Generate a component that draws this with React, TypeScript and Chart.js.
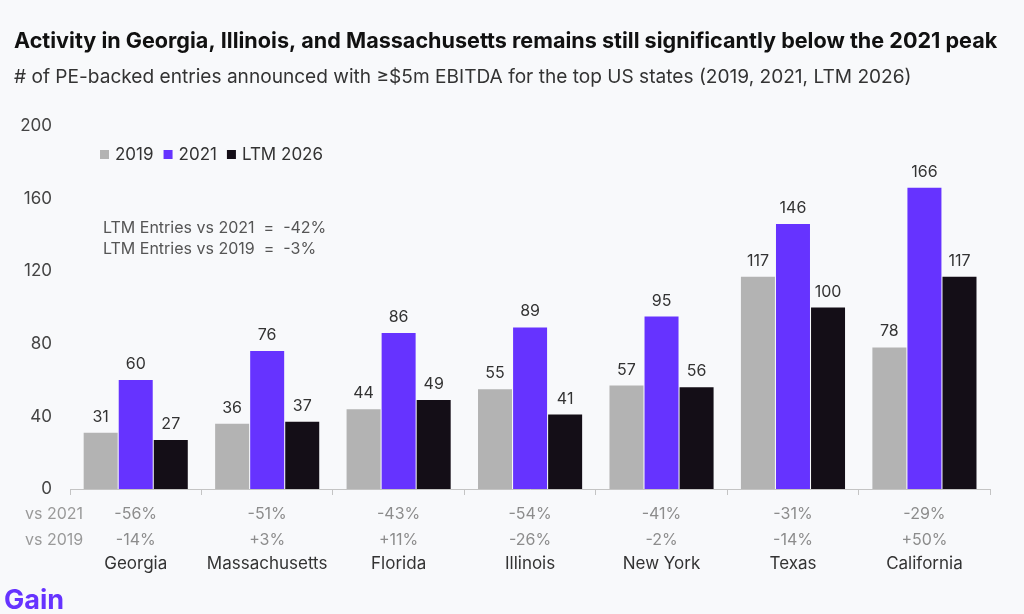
import React, { useEffect, useRef } from "react";
import { Chart, registerables } from "chart.js";

Chart.register(...registerables);

const categories = ["Georgia", "Massachusetts", "Florida", "Illinois", "New York", "Texas", "California"];
const values2019 = [31, 36, 44, 55, 57, 117, 78];
const values2021 = [60, 76, 86, 89, 95, 146, 166];
const valuesLtm = [27, 37, 49, 41, 56, 100, 117];
const vs2021 = ["-56%", "-51%", "-43%", "-54%", "-41%", "-31%", "-29%"];
const vs2019 = ["-14%", "+3%", "+11%", "-26%", "-2%", "-14%", "+50%"];
const rowLabels = ["vs 2021", "vs 2019"];
const seriesNames = ["2019", "2021", "LTM 2026"];
const seriesColors = ["#b3b3b3", "#6633ff", "#140e17"];
const notes = ["LTM Entries vs 2021  =  -42%", "LTM Entries vs 2019  =  -3%"];
const titleText = "Activity in Georgia, Illinois, and Massachusetts remains still significantly below the 2021 peak";
const subtitleText = "# of PE-backed entries announced with \u2265$5m EBITDA for the top US states (2019, 2021, LTM 2026)";
const logoText = "Gain";
const yMax = 200;
const yStep = 40;

const FONT = "Inter, 'Noto Sans', sans-serif";
const BG = "#f8f9fb";

function fitFont(ctx: CanvasRenderingContext2D, text: string, weight: string, size: number, maxWidth: number) {
  ctx.font = `${weight} ${size}px ${FONT}`;
  const w = ctx.measureText(text).width;
  if (w > maxWidth) {
    const s = (size * maxWidth) / w;
    ctx.font = `${weight} ${s}px ${FONT}`;
  }
}

const overlayPlugin = {
  id: "overlay",
  beforeDraw(chart: any) {
    const { ctx, width, height } = chart;
    ctx.save();
    ctx.fillStyle = BG;
    ctx.fillRect(0, 0, width, height);
    ctx.restore();
  },
  afterDatasetsDraw(chart: any) {
    const ctx = chart.ctx as CanvasRenderingContext2D;
    ctx.save();
    ctx.font = `16px ${FONT}`;
    ctx.fillStyle = "#333333";
    ctx.textAlign = "center";
    ctx.textBaseline = "alphabetic";
    chart.data.datasets.forEach((ds: any, i: number) => {
      const meta = chart.getDatasetMeta(i);
      meta.data.forEach((bar: any, j: number) => {
        ctx.fillText(String(ds.data[j]), bar.x, bar.y - 11);
      });
    });
    ctx.restore();
  },
  afterDraw(chart: any) {
    const ctx = chart.ctx as CanvasRenderingContext2D;
    const xScale = chart.scales.x;
    ctx.save();
    // Title
    ctx.textAlign = "left";
    ctx.textBaseline = "alphabetic";
    ctx.fillStyle = "#111111";
    fitFont(ctx, titleText, "bold", 21.6, 990);
    ctx.fillText(titleText, 14, 48);
    ctx.fillStyle = "#333333";
    fitFont(ctx, subtitleText, "normal", 19.1, 901);
    ctx.fillText(subtitleText, 14, 83);

    // Legend
    ctx.font = `17px ${FONT}`;
    ctx.textBaseline = "middle";
    let lx = 100;
    const ly = 155;
    seriesNames.forEach((name, i) => {
      ctx.fillStyle = seriesColors[i];
      ctx.fillRect(lx, ly - 5, 9, 9);
      lx += 15;
      ctx.fillStyle = "#333333";
      ctx.fillText(name, lx, ly);
      lx += ctx.measureText(name).width + 10;
    });

    // Notes
    ctx.font = `16px ${FONT}`;
    ctx.fillStyle = "#555555";
    notes.forEach((n, i) => {
      ctx.fillText(n, 103, 228 + i * 21);
    });

    // Bottom comparison rows
    ctx.font = `16px ${FONT}`;
    ctx.fillStyle = "#9a9a9a";
    ctx.textAlign = "left";
    rowLabels.forEach((r, i) => ctx.fillText(r, 25, 514 + i * 26));
    ctx.fillStyle = "#8c8c8c";
    ctx.textAlign = "center";
    categories.forEach((_, j) => {
      const cx = xScale.getPixelForValue(j);
      ctx.fillText(vs2021[j], cx, 514);
      ctx.fillText(vs2019[j], cx, 540);
    });

    // Logo
    ctx.textAlign = "left";
    ctx.textBaseline = "alphabetic";
    ctx.fillStyle = "#6633ff";
    ctx.font = `bold 27px ${FONT}`;
    ctx.fillText(logoText, 4, 609);
    ctx.restore();
  },
};

export default function App() {
  const canvasRef = useRef<HTMLCanvasElement | null>(null);

  useEffect(() => {
    if (!canvasRef.current) return;
    const chart = new Chart(canvasRef.current, {
      type: "bar",
      data: {
        labels: categories,
        datasets: [
          { label: seriesNames[0], data: values2019, backgroundColor: seriesColors[0] },
          { label: seriesNames[1], data: values2021, backgroundColor: seriesColors[1] },
          { label: seriesNames[2], data: valuesLtm, backgroundColor: seriesColors[2] },
        ],
      },
      options: {
        animation: false,
        responsive: false,
        maintainAspectRatio: false,
        layout: { padding: { top: 126, right: 32, bottom: 0, left: 0 } },
        datasets: { bar: { categoryPercentage: 0.8, barPercentage: 0.97 } },
        plugins: { legend: { display: false }, tooltip: { enabled: false }, title: { display: false } },
        scales: {
          x: {
            grid: { drawOnChartArea: false, drawTicks: true, tickLength: 6, color: "#c4c4c4" },
            border: { display: true, color: "#c4c4c4" },
            ticks: { font: { size: 17, family: FONT }, color: "#333333", padding: 59, maxRotation: 0, autoSkip: false },
            afterFit: (s: any) => { s.height = 125; },
          },
          y: {
            min: 0,
            max: yMax,
            ticks: { stepSize: yStep, padding: 18, font: { size: 17, family: FONT }, color: "#444444" },
            grid: { display: false, drawTicks: false },
            border: { display: false },
            afterFit: (s: any) => { s.width = 70; },
          },
        },
      } as any,
      plugins: [overlayPlugin],
    });
    return () => chart.destroy();
  }, []);

  return (
    <div style={{ position: "fixed", left: 0, top: 0, width: 1024, height: 614, background: BG }}>
      <canvas ref={canvasRef} width={1024} height={614} style={{ display: "block" }} />
    </div>
  );
}
